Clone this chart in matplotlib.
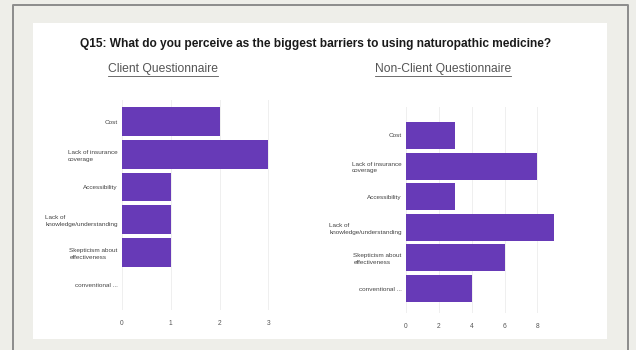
import matplotlib.pyplot as plt
from matplotlib.patches import Rectangle
from matplotlib.lines import Line2D

barriers = ['Cost', 'Lack of insurance\ncoverage', 'Accessibility',
            'Lack of\nknowledge/understanding', 'Skepticism about\neffectiveness',
            'conventional ...']
client_counts = [2, 3, 1, 1, 1, 0]
non_client_counts = [3, 8, 3, 9, 6, 4]
client_ticks = [0, 1, 2, 3]
non_client_ticks = [0, 2, 4, 6, 8]

W, H = 636, 350
BAR = '#673ab7'
GRID = '#efefef'

plt.rcParams['font.family'] = ['Liberation Sans', 'DejaVu Sans']

fig = plt.figure(figsize=(W / 100, H / 100), dpi=100)
fig.patch.set_facecolor('#eeeee9')


def px_box(x0, y0, x1, y1):
    # pixel box (top-left origin) -> figure fraction rect
    return [x0 / W, 1 - y1 / H, (x1 - x0) / W, (y1 - y0) / H]


# slide frame and white panel, kept behind the axes
fig.add_artist(Line2D([13 / W, 13 / W, 628 / W, 628 / W], [0, 1 - 5 / H, 1 - 5 / H, 0],
                      transform=fig.transFigure, color='#8c8c8c', lw=1.4, zorder=-2))
fig.add_artist(Rectangle((33 / W, 1 - 339 / H), 574 / W, 316 / H,
                         transform=fig.transFigure, facecolor='white', edgecolor='none',
                         zorder=-1))

fig.text(316 / W, 1 - 44 / H,
         'Q15: What do you perceive as the biggest barriers to using naturopathic medicine?',
         ha='center', va='center', fontsize=8.6, fontweight='bold', color='#1a1a1a')

subtitles = [
    fig.text(163 / W, 1 - 69 / H, 'Client Questionnaire', ha='center', va='center',
             fontsize=8.7, color='#555555'),
    fig.text(443 / W, 1 - 69 / H, 'Non-Client Questionnaire', ha='center', va='center',
             fontsize=8.7, color='#555555'),
]


def bar_panel(rect, counts, ticks, xmax, ylim):
    ax = fig.add_axes(rect)
    ax.set_facecolor('none')
    ax.barh(range(len(barriers)), counts, height=0.88, color=BAR, linewidth=0, zorder=3)
    ax.set_xlim(0, xmax)
    ax.set_ylim(*ylim)
    ax.set_xticks(ticks)
    ax.set_yticks(range(len(barriers)))
    ax.set_yticklabels(barriers, fontsize=4.6, color='#444444', linespacing=1.45,
                       multialignment='left')
    ax.tick_params(axis='x', labelsize=4.8, labelcolor='#555555', length=0, pad=7)
    ax.tick_params(axis='y', length=0, pad=3)
    ax.grid(axis='x', color=GRID, lw=0.7, zorder=0)
    for s in ax.spines.values():
        s.set_visible(False)
    return ax


bar_panel(px_box(122, 100, 283, 310), client_counts, client_ticks, 3.3, (5.76, -0.66))
bar_panel(px_box(406, 107, 567, 313), non_client_counts, non_client_ticks, 9.8, (5.8, -0.93))

# underline the two subtitles
fig.canvas.draw()
renderer = fig.canvas.get_renderer()
for t in subtitles:
    bb = t.get_window_extent(renderer)
    y = (bb.y0 - 0.5) / H
    fig.add_artist(Line2D([bb.x0 / W, bb.x1 / W], [y, y], transform=fig.transFigure,
                          color='#555555', lw=0.6))

fig.savefig('out.png', dpi=100, facecolor=fig.get_facecolor())
